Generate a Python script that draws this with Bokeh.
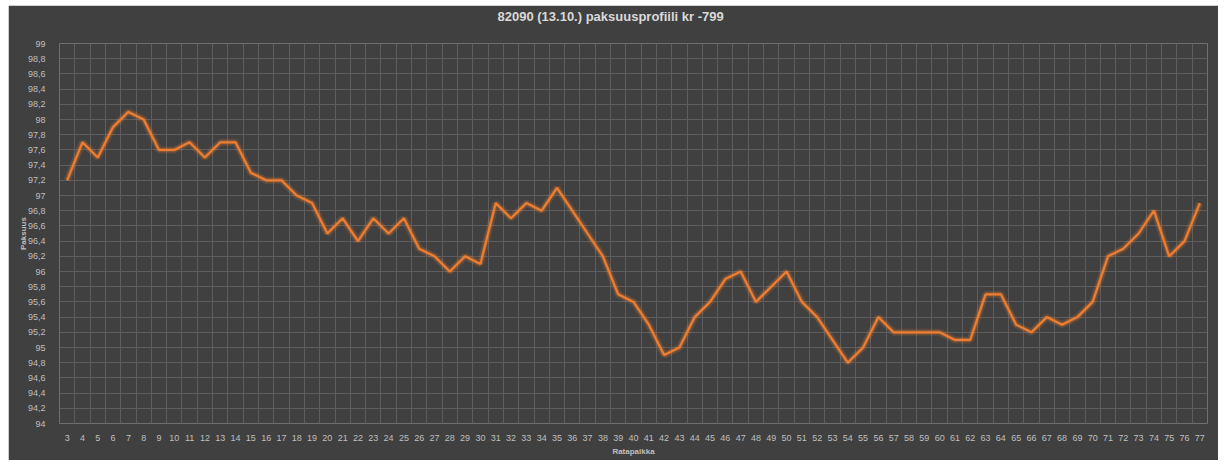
from bokeh.plotting import figure
from bokeh.models import FixedTicker, CustomJSTickFormatter, Range1d
from bokeh.embed import file_html
from bokeh.resources import INLINE

# Track position (ratapaikka) and measured thickness (paksuus)
positions = list(range(3, 78))
thickness = [
    97.2, 97.7, 97.5, 97.9, 98.1, 98.0, 97.6, 97.6, 97.7, 97.5,
    97.7, 97.7, 97.3, 97.2, 97.2, 97.0, 96.9, 96.5, 96.7, 96.4,
    96.7, 96.5, 96.7, 96.3, 96.2, 96.0, 96.2, 96.1, 96.9, 96.7,
    96.9, 96.8, 97.1, 96.8, 96.5, 96.2, 95.7, 95.6, 95.3, 94.9,
    95.0, 95.4, 95.6, 95.9, 96.0, 95.6, 95.8, 96.0, 95.6, 95.4,
    95.1, 94.8, 95.0, 95.4, 95.2, 95.2, 95.2, 95.2, 95.1, 95.1,
    95.7, 95.7, 95.3, 95.2, 95.4, 95.3, 95.4, 95.6, 96.2, 96.3,
    96.5, 96.8, 96.2, 96.4, 96.9,
]
y_ticks = [round(94 + 0.2 * i, 1) for i in range(26)]

title_text = "82090 (13.10.) paksuusprofiili kr -799"
x_label = "Ratapaikka"
y_label = "Paksuus"

bg = "#404040"
grid = "#5e5e5e"
txt = "#bfbfbf"
orange = "#ED7D31"
font = "Liberation Sans"

p = figure(
    width=1210, height=455,
    x_range=Range1d(positions[0] - 0.5, positions[-1] + 0.5),
    y_range=Range1d(94, 99),
    output_backend="svg", toolbar_location=None,
    min_border_left=51, min_border_right=11,
    min_border_top=38, min_border_bottom=37,
)
p.margin = (5, 8, 5, 8)
p.background_fill_color = bg
p.border_fill_color = bg
p.outline_line_color = None

# trailing blank line lifts the title away from the plot frame
p.title.text = title_text + "\n"
p.title.align = "left"
p.title.offset = 438
p.title.vertical_align = "top"
p.title.text_color = "#d9d9d9"
p.title.text_font = font
p.title.text_font_size = "13px"
p.title.text_font_style = "bold"
p.title.standoff = 6

# x axis: one label per position, gridlines between positions
p.xaxis.ticker = FixedTicker(ticks=positions)
p.xgrid.ticker = FixedTicker(ticks=[x - 0.5 for x in positions] + [positions[-1] + 0.5])
p.yaxis.ticker = FixedTicker(ticks=y_ticks)
p.yaxis.formatter = CustomJSTickFormatter(
    code="return (Math.round(tick * 10) / 10).toString().replace('.', ',');"
)

for ax in (p.xaxis[0], p.yaxis[0]):
    ax.axis_line_color = None
    ax.major_tick_line_color = None
    ax.minor_tick_line_color = None
    ax.major_label_text_color = txt
    ax.major_label_text_font = font
    ax.major_label_text_font_size = "9px"
    ax.axis_label_text_color = txt
    ax.axis_label_text_font = font
    ax.axis_label_text_font_size = "8px"
    ax.axis_label_text_font_style = "bold"

p.xaxis.axis_label = x_label
p.yaxis.axis_label = y_label
p.xaxis.major_label_standoff = 5
p.xaxis.axis_label_standoff = 3
p.yaxis.major_label_standoff = 8
p.yaxis.axis_label_standoff = -3

p.xgrid.grid_line_color = grid
p.ygrid.grid_line_color = grid
p.xgrid.grid_line_width = 1
p.ygrid.grid_line_width = 1

# soft glow under the series line
p.line(positions, thickness, line_color=orange, line_width=7, line_alpha=0.18)
p.line(positions, thickness, line_color=orange, line_width=4, line_alpha=0.25)
p.line(positions, thickness, line_color=orange, line_width=2.2)

open("out.html", "w").write(file_html(p, INLINE))
